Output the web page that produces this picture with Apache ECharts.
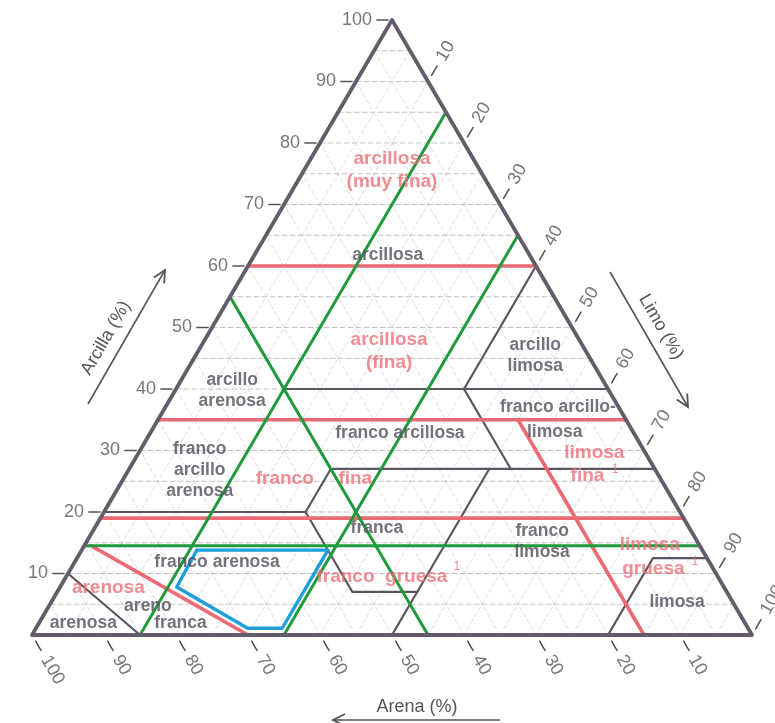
<!DOCTYPE html>
<html>
<head>
<meta charset="utf-8">
<title>Triangulo de texturas</title>
<script src="https://cdn.jsdelivr.net/npm/echarts@6/dist/echarts.min.js"></script>
<style>
  html, body { margin: 0; padding: 0; background: #fff; }
  #main { width: 775px; height: 723px; }
</style>
</head>
<body>
<div id="main"></div>
<script>
// todos los puntos van como [arena, arcilla] en %
var borde = [[100, 0], [0, 0], [0, 100], [100, 0]];

var clasesUSDA = [
    [[90, 10], [85, 0]],
    [[80, 20], [52, 20]],
    [[52, 20], [45, 27]],
    [[52, 20], [52, 7], [43, 7]],
    [[23, 27], [50, 0]],
    [[45, 27], [0, 27]],
    [[20, 40], [20, 27]],
    [[45, 40], [0, 40]],
    [[20, 40], [0, 60]],
    [[45, 27], [45, 55]],
    [[20, 0], [7.5, 12.5], [0, 12.5]]
];

var lineasRojas = [
    [[40, 60], [0, 60]],
    [[65, 35], [0, 35]],
    [[81, 19], [0, 19]],
    [[15, 35], [15, 0]],
    [[84.5, 14.5], [70, 0]]
];

var lineasVerdes = [
    [[85, 0], [0, 85]],
    [[65, 0], [0, 65]],
    [[45, 55], [45, 0]],
    [[85.5, 14.5], [0, 14.5]]
];

var zonaAzul = [[70.2, 13.8], [52, 13.8], [64.7, 1.1], [69.5, 1.1], [76, 7.8], [70.2, 13.8]];

var marcas = [10, 20, 30, 40, 50, 60, 70, 80, 90, 100];
var pasoRejilla = 5;

var textosGris = [
    ['arcillosa', 19.7, 61.8],
    ['arcillo\nlimosa', 7.4, 45.4],
    ['arcillo\narenosa', 52.3, 39.8],
    ['franco arcillo-', 8.4, 37.1],
    ['limosa', 10.9, 33.0],
    ['franco arcillosa', 32.5, 32.8],
    ['franco\narcillo\narenosa', 63.3, 26.8],
    ['franca', 43.4, 17.4],
    ['franco\nlimosa', 21.6, 15.1],
    ['limosa', 7.7, 5.4],
    ['franco arenosa', 68.35, 11.9],
    ['areno', 81.55, 4.7],
    ['franca', 78.4, 1.95],
    ['arenosa', 91.9, 1.95]
];

var textosRojos = [
    ['arcillosa\n(muy fina)', 12.2, 75.6],
    ['arcillosa\n(fina)', 27.3, 46.2],
    ['limosa', 7.1, 29.6],
    ['fina', 9.9, 25.9],
    ['franco', 52.2, 25.4],
    ['fina', 42.4, 25.4],
    ['limosa', 6.9, 14.6],
    ['gruesa', 8.35, 10.7],
    ['franco  gruesa', 46.7, 9.4],
    ['arenosa', 85.6, 7.6]
];

var notas = [['1', 5.6, 26.8], ['1', 2.0, 11.9], ['1', 35.45, 11.1]];

// [arena, arcilla] -> coordenadas del plano
function xy(p) {
    return [100 - p[0] - p[1] / 2, p[1]];
}
function tramos(lista) {
    return lista.map(function (l) { return { coords: l.map(xy) }; });
}
function capaLineas(lista, color, ancho, tipo) {
    return {
        type: 'lines',
        coordinateSystem: 'cartesian2d',
        polyline: true,
        silent: true,
        z: 2,
        lineStyle: { color: color, width: ancho, type: tipo || 'solid', opacity: 1, cap: 'round', join: 'round' },
        data: tramos(lista)
    };
}
function capaTextos(lista, color, size, lh, peso) {
    return {
        type: 'scatter',
        symbolSize: 1,
        silent: true,
        z: 5,
        itemStyle: { color: 'rgba(0,0,0,0)' },
        label: {
            show: true, position: 'inside', formatter: '{b}',
            color: color, fontSize: size, fontWeight: peso || 'bold',
            fontFamily: 'Liberation Sans, Arial, sans-serif', lineHeight: lh
        },
        data: lista.map(function (t) { return { name: t[0], value: xy([t[1], t[2]]) }; })
    };
}

// rejilla punteada
var rejH = [], rejD = [];
for (var k = pasoRejilla; k < 100; k += pasoRejilla) {
    rejH.push([[100 - k, k], [0, k]]);
    rejD.push([[k, 0], [k, 100 - k]]);
    rejD.push([[100 - k, 0], [0, 100 - k]]);
}

// marcas de los tres ejes
var marcasArcilla = [], marcasLimo = [], marcasArena = [];
var txtArcilla = [], txtLimo = [], txtArena = [];
marcas.forEach(function (v) {
    marcasArcilla.push([[100 - v + 0.55, v], [100 - v + 2.1, v]]);
    txtArcilla.push({ name: String(v), value: xy([100 - v + 2.7, v]) });
    marcasLimo.push([[-1.0, 100 - v + 1.0], [-2.5, 100 - v + 2.5]]);
    var dl = v === 100 ? 5.7 : 4.9;
    txtLimo.push({ name: String(v), value: xy([-dl, 100 - v + dl]) });
    marcasArena.push([[v, -1.0], [v, -2.5]]);
    txtArena.push({ name: String(v), value: xy([v, -dl]) });
});

var fuenteEje = 'Liberation Sans, Arial, sans-serif';
function capaNumeros(data, pos, rot) {
    return {
        type: 'scatter', symbolSize: 1, silent: true, z: 5,
        itemStyle: { color: 'rgba(0,0,0,0)' },
        label: {
            show: true, position: pos, distance: 0, rotate: rot, formatter: '{b}',
            color: '#555555', fontSize: 18, fontFamily: fuenteEje
        },
        data: data
    };
}

// flechas y titulos de eje (decoracion, en pixeles)
function flecha(x1, y1, x2, y2) {
    var dx = x2 - x1, dy = y2 - y1, L = Math.sqrt(dx * dx + dy * dy);
    var ux = dx / L, uy = dy / L, px = -uy, py = ux;
    var b = 12, w = 6;
    return [
        { type: 'polyline', shape: { points: [[x1, y1], [x2, y2]] }, style: { stroke: '#555', lineWidth: 1.6, fill: null } },
        { type: 'polyline', shape: { points: [[x2 - b * ux + w * px, y2 - b * uy + w * py], [x2, y2], [x2 - b * ux - w * px, y2 - b * uy - w * py]] },
          style: { stroke: '#555', lineWidth: 1.8, fill: null } }
    ];
}
function titulo(txt, x, y, rot) {
    return {
        type: 'text', x: x, y: y, rotation: rot,
        style: { text: txt, fill: '#555', font: '18px ' + fuenteEje, textAlign: 'center', textVerticalAlign: 'middle' }
    };
}

var graficos = []
    .concat(flecha(88, 404, 165, 270))
    .concat(flecha(610, 272, 688, 407))
    .concat(flecha(500, 720, 333, 720))
    .concat([
        titulo('Arcilla (%)', 106, 338, Math.PI / 3),
        titulo('Limo (%)', 661, 327, -Math.PI / 3),
        titulo('Arena (%)', 417, 707, 0)
    ]);

var myChart = echarts.init(document.getElementById('main'));
var option = {
    backgroundColor: '#fff',
    animation: false,
    grid: { left: 0, right: 0, top: 0, bottom: 0 },
    xAxis: { type: 'value', min: -32 / 7.2, max: 100 + 23 / 7.2, show: false },
    yAxis: { type: 'value', min: -88 / 6.15, max: 100 + 20 / 6.15, show: false },
    graphic: graficos,
    series: [
        capaLineas(rejD, '#dedede', 1, [4, 3]),
        capaLineas(rejH, '#c2c2c2', 1, [5, 3]),
        capaLineas(clasesUSDA, '#5c5461', 2.2),
        capaLineas(lineasRojas, '#ec6a73', 3.6),
        capaLineas(lineasVerdes, '#1f9a3c', 3),
        capaLineas([zonaAzul], '#1e9fdc', 3.4),
        capaLineas([borde], '#645c6a', 3.8),
        capaLineas(marcasArcilla, '#555555', 1.6),
        capaLineas(marcasLimo, '#555555', 1.6),
        capaLineas(marcasArena, '#555555', 1.6),
        capaNumeros(txtArcilla, 'left', 0),
        capaNumeros(txtLimo, 'inside', 60),
        capaNumeros(txtArena, 'inside', -60),
        capaTextos(textosGris, '#554d5b', 17.5, 21),
        capaTextos(textosRojos, '#ec6f78', 19, 23),
        capaTextos(notas, '#ec6f78', 12, 14, 'normal')
    ]
};
myChart.setOption(option);
</script>
</body>
</html>
